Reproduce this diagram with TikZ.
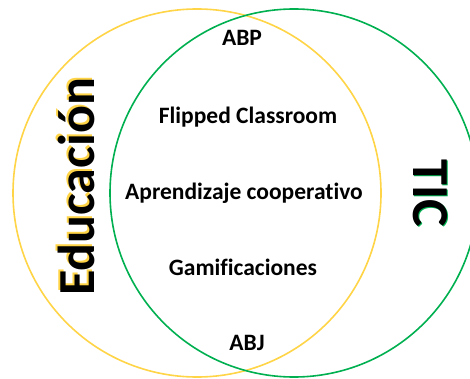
\documentclass[tikz,border=0pt]{standalone}
\usepackage{fontspec}
\setmainfont{Carlito}[RawFeature={-liga;-clig}]
\definecolor{edu}{HTML}{FFD447}
\definecolor{tic}{HTML}{00B050}
\tikzset{
  ring/.style={line width=1.6pt},
  item/.style={font=\bfseries\fontsize{23.5}{26}\selectfont, anchor=base, inner sep=0pt},
  setlabel/.style={font=\bfseries\fontsize{52}{56}\selectfont, anchor=base, inner sep=0pt}
}
\begin{document}
\begin{tikzpicture}[x=1pt, y=-1pt]
  \useasboundingbox (0,0) rectangle (470,379);

  \newcommand\R{184};

  %% the two sets
  \draw[ring, edu] (197,193) coordinate (cedu) circle (\R);
  \draw[ring, tic] (294,193) coordinate (ctic) circle (\R);

  %% set names, with their coloured shadow
  \node[setlabel, rotate=90, edu] at (92,185) {Educación};
  \node[setlabel, rotate=90] (edu) at (94,187) {Educación};
  \node[setlabel, rotate=-90, tic] at (414.5,194.5) {TIC};
  \node[setlabel, rotate=-90] (tic) at (413,193) {TIC};

  %% what lies in both
  \node[item] (abp) at (242,46) {ABP};
  \node[item] (flip) at (248,124) {Flipped Classroom};
  \node[item] (coop) at (244,199) {Aprendizaje cooperativo};
  \node[item] (gami) at (243,275) {Gamificaciones};
  \node[item] (abj) at (247,350) {ABJ};
\end{tikzpicture}
\end{document}
